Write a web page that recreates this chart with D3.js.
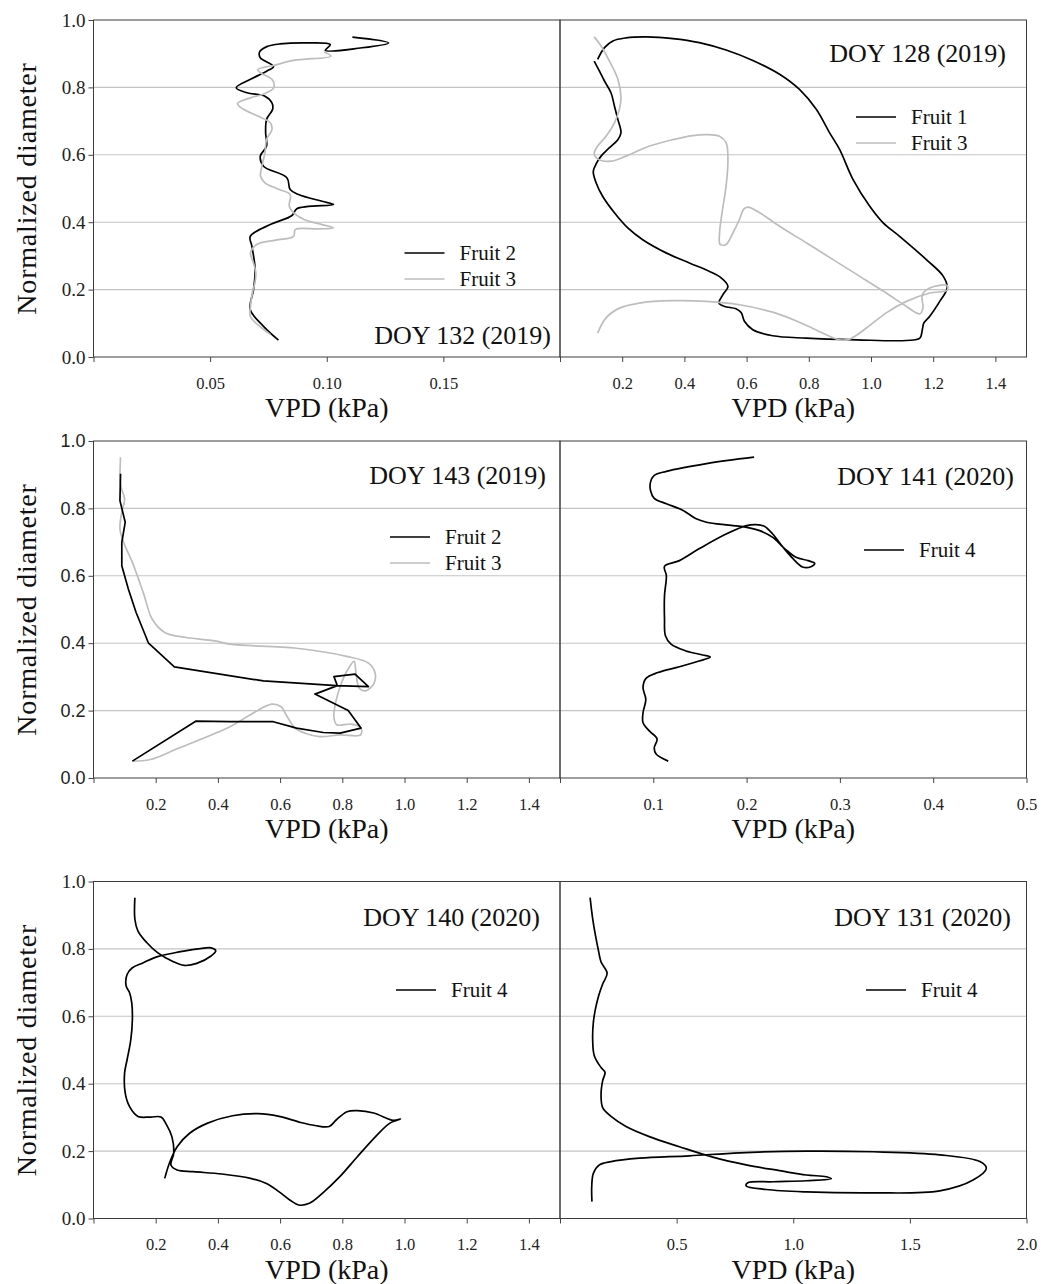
<!DOCTYPE html>
<html>
<head>
<meta charset="utf-8">
<script src="https://cdn.jsdelivr.net/npm/d3@7"></script>
<style>
  body { margin: 0; background: #fff; }
  svg { display: block; }
</style>
</head>
<body>
<script>
// VPD (kPa) vs normalized diameter
const doy132Fruit2 = [[0.111,0.949],[0.1265,0.932],[0.1144,0.917],[0.0994,0.910],[0.1015,0.927],[0.0929,0.932],[0.080,0.929],[0.0743,0.921],[0.0712,0.905],[0.0715,0.888],[0.0772,0.862],[0.0742,0.848],[0.0673,0.824],[0.0612,0.799],[0.0658,0.784],[0.0735,0.774],[0.0765,0.754],[0.0768,0.735],[0.0742,0.705],[0.0738,0.665],[0.0742,0.626],[0.0715,0.596],[0.0729,0.566],[0.0829,0.532],[0.0843,0.497],[0.0879,0.482],[0.098,0.462],[0.1029,0.4525],[0.0872,0.440],[0.0851,0.420],[0.0758,0.393],[0.0672,0.358],[0.0679,0.329],[0.0693,0.260],[0.0686,0.200],[0.0672,0.141],[0.0729,0.091],[0.0793,0.050]]
const doy132Fruit3 = [[0.0988,0.905],[0.1018,0.893],[0.0858,0.880],[0.0772,0.865],[0.0704,0.853],[0.0719,0.842],[0.0765,0.824],[0.0773,0.799],[0.0735,0.782],[0.0673,0.769],[0.0617,0.752],[0.0643,0.735],[0.0704,0.715],[0.0758,0.695],[0.0765,0.675],[0.0742,0.646],[0.0735,0.606],[0.0722,0.566],[0.0716,0.537],[0.0735,0.517],[0.0796,0.497],[0.0843,0.482],[0.0839,0.448],[0.0851,0.433],[0.0903,0.408],[0.098,0.393],[0.1029,0.383],[0.0965,0.380],[0.0865,0.378],[0.0858,0.358],[0.0781,0.347],[0.070,0.334],[0.0673,0.309],[0.0686,0.279],[0.0696,0.250],[0.0692,0.220],[0.0681,0.190],[0.0673,0.150],[0.0672,0.121],[0.0704,0.096],[0.0758,0.067]]

const doy128Fruit1 = [[0.110,0.878],[0.127,0.848],[0.143,0.819],[0.164,0.784],[0.175,0.745],[0.186,0.705],[0.196,0.665],[0.186,0.645],[0.159,0.621],[0.132,0.596],[0.118,0.576],[0.107,0.551],[0.116,0.517],[0.137,0.477],[0.175,0.428],[0.218,0.383],[0.266,0.348],[0.341,0.309],[0.416,0.279],[0.481,0.254],[0.518,0.235],[0.540,0.210],[0.524,0.185],[0.511,0.160],[0.529,0.150],[0.566,0.143],[0.583,0.131],[0.593,0.106],[0.620,0.081],[0.684,0.063],[0.792,0.056],[0.953,0.051],[1.114,0.049],[1.157,0.056],[1.165,0.081],[1.170,0.101],[1.189,0.121],[1.221,0.165],[1.245,0.205],[1.232,0.240],[1.178,0.289],[1.092,0.358],[1.039,0.398],[0.996,0.447],[0.942,0.527],[0.899,0.616],[0.867,0.665],[0.824,0.735],[0.770,0.794],[0.706,0.839],[0.620,0.880],[0.534,0.911],[0.448,0.933],[0.363,0.945],[0.277,0.950],[0.212,0.947],[0.170,0.938],[0.143,0.918],[0.121,0.883]]
const doy128Fruit3 = [[0.110,0.950],[0.132,0.923],[0.159,0.878],[0.186,0.824],[0.196,0.774],[0.191,0.735],[0.175,0.695],[0.148,0.655],[0.121,0.626],[0.110,0.604],[0.121,0.588],[0.164,0.581],[0.212,0.596],[0.288,0.626],[0.363,0.645],[0.427,0.657],[0.470,0.660],[0.513,0.655],[0.534,0.636],[0.540,0.586],[0.534,0.507],[0.521,0.428],[0.513,0.368],[0.515,0.334],[0.534,0.334],[0.556,0.368],[0.577,0.408],[0.590,0.438],[0.604,0.445],[0.642,0.428],[0.706,0.388],[0.792,0.339],[0.878,0.289],[0.963,0.240],[1.049,0.190],[1.114,0.150],[1.157,0.128],[1.167,0.145],[1.165,0.185],[1.189,0.205],[1.245,0.212],[1.245,0.198],[1.189,0.190],[1.114,0.165],[1.049,0.131],[0.985,0.086],[0.931,0.053],[0.899,0.051],[0.856,0.066],[0.770,0.103],[0.684,0.133],[0.577,0.155],[0.470,0.165],[0.363,0.167],[0.255,0.160],[0.191,0.145],[0.148,0.116],[0.121,0.071]]

const doy143Fruit2 = [[0.087,0.903],[0.085,0.823],[0.102,0.759],[0.091,0.699],[0.091,0.630],[0.112,0.561],[0.137,0.491],[0.177,0.400],[0.260,0.330],[0.546,0.288],[0.782,0.274],[0.884,0.271],[0.841,0.308],[0.773,0.301],[0.784,0.274],[0.712,0.249],[0.819,0.200],[0.860,0.148],[0.793,0.133],[0.739,0.135],[0.653,0.148],[0.578,0.167],[0.439,0.167],[0.330,0.169],[0.125,0.050]]
const doy143Fruit3 = [[0.087,0.952],[0.087,0.868],[0.100,0.828],[0.091,0.789],[0.085,0.739],[0.097,0.699],[0.125,0.640],[0.160,0.550],[0.189,0.471],[0.229,0.432],[0.298,0.417],[0.390,0.407],[0.439,0.397],[0.653,0.385],[0.814,0.361],[0.884,0.341],[0.905,0.313],[0.902,0.281],[0.876,0.259],[0.855,0.266],[0.844,0.311],[0.838,0.346],[0.814,0.316],[0.793,0.271],[0.778,0.222],[0.773,0.182],[0.782,0.158],[0.830,0.160],[0.860,0.148],[0.859,0.128],[0.793,0.128],[0.728,0.123],[0.680,0.133],[0.648,0.148],[0.623,0.182],[0.602,0.212],[0.573,0.219],[0.503,0.187],[0.439,0.152],[0.275,0.089],[0.183,0.055],[0.125,0.050]]

const doy141Fruit4 = [[0.208,0.952],[0.157,0.933],[0.114,0.910],[0.101,0.898],[0.097,0.878],[0.097,0.853],[0.101,0.830],[0.114,0.814],[0.132,0.794],[0.146,0.769],[0.157,0.759],[0.178,0.751],[0.196,0.746],[0.214,0.734],[0.228,0.714],[0.241,0.680],[0.253,0.655],[0.266,0.645],[0.273,0.637],[0.269,0.627],[0.260,0.626],[0.250,0.650],[0.239,0.685],[0.228,0.724],[0.219,0.747],[0.210,0.752],[0.200,0.749],[0.178,0.724],[0.149,0.680],[0.128,0.645],[0.112,0.628],[0.114,0.600],[0.112,0.541],[0.112,0.471],[0.113,0.422],[0.119,0.397],[0.135,0.377],[0.153,0.365],[0.161,0.359],[0.149,0.347],[0.128,0.330],[0.105,0.313],[0.092,0.295],[0.089,0.268],[0.092,0.233],[0.089,0.194],[0.089,0.164],[0.096,0.139],[0.104,0.116],[0.101,0.089],[0.103,0.071],[0.116,0.050]]

const doy140Fruit4 = [[0.133,0.952],[0.133,0.888],[0.143,0.853],[0.171,0.819],[0.206,0.789],[0.252,0.764],[0.292,0.751],[0.332,0.757],[0.378,0.779],[0.393,0.794],[0.378,0.803],[0.344,0.801],[0.275,0.791],[0.206,0.777],[0.160,0.759],[0.125,0.744],[0.108,0.724],[0.105,0.690],[0.116,0.670],[0.123,0.640],[0.125,0.590],[0.120,0.531],[0.108,0.471],[0.100,0.432],[0.102,0.372],[0.116,0.332],[0.143,0.303],[0.183,0.301],[0.217,0.301],[0.235,0.278],[0.252,0.243],[0.258,0.194],[0.249,0.159],[0.269,0.144],[0.321,0.139],[0.413,0.132],[0.505,0.119],[0.556,0.104],[0.597,0.079],[0.631,0.055],[0.660,0.040],[0.694,0.045],[0.735,0.074],[0.792,0.124],[0.849,0.184],[0.907,0.243],[0.953,0.283],[0.987,0.295],[0.964,0.291],[0.901,0.313],[0.849,0.320],[0.815,0.317],[0.781,0.293],[0.758,0.273],[0.712,0.276],[0.666,0.285],[0.597,0.303],[0.528,0.311],[0.447,0.305],[0.367,0.283],[0.309,0.253],[0.269,0.213],[0.246,0.169],[0.229,0.119]]

const doy131Fruit4 = [[0.129,0.952],[0.140,0.890],[0.152,0.840],[0.166,0.791],[0.176,0.761],[0.202,0.728],[0.183,0.696],[0.166,0.662],[0.152,0.622],[0.143,0.582],[0.140,0.533],[0.147,0.483],[0.176,0.448],[0.193,0.434],[0.183,0.409],[0.176,0.369],[0.183,0.329],[0.219,0.303],[0.283,0.273],[0.383,0.243],[0.512,0.213],[0.655,0.182],[0.798,0.159],[0.941,0.142],[1.056,0.129],[1.142,0.124],[1.163,0.118],[1.056,0.112],[0.913,0.109],[0.805,0.106],[0.798,0.097],[0.884,0.086],[1.056,0.079],[1.342,0.076],[1.628,0.082],[1.771,0.114],[1.828,0.149],[1.800,0.169],[1.628,0.189],[1.342,0.198],[1.056,0.200],[0.770,0.195],[0.555,0.186],[0.341,0.179],[0.219,0.169],[0.169,0.159],[0.143,0.134],[0.136,0.094],[0.137,0.050]]

const yTicks = [0, 0.2, 0.4, 0.6, 0.8, 1.0]
const gridValues = [0.2, 0.4, 0.6, 0.8]
const ticks015 = [0, 0.2, 0.4, 0.6, 0.8, 1.0, 1.2, 1.4]

const BLACK = "#000"
const GREY = "#bdbdbd"
const SERIF = "'Liberation Serif', 'Times New Roman', serif"
const SANS = "'Liberation Sans', Arial, sans-serif"
const smooth = d3.curveCatmullRom.alpha(0.5)

const W = 1041, H = 1284
const rowTop = [20, 441, 881.5]
const PH = 337
const colX = [93.5, 560]
const PW = 466.5

const panels = [
  {row: 0, col: 0, xMax: 0.2, ticks: [0, 0.05, 0.1, 0.15, 0.2], shown: [0.05, 0.1, 0.15], fmt: ".2f",
   title: "DOY 132 (2019)", titleDx: 9, titleY: 324, legX: 311, legY: 233,
   series: [{name: "Fruit 2", data: doy132Fruit2, color: BLACK, curve: smooth},
            {name: "Fruit 3", data: doy132Fruit3, color: GREY, curve: smooth}]},
  {row: 0, col: 1, xMax: 1.5, ticks: ticks015, shown: ticks015.slice(1), fmt: ".1f",
   title: "DOY 128 (2019)", titleDx: 20.5, titleY: 42, legX: 296, legY: 97,
   series: [{name: "Fruit 1", data: doy128Fruit1, color: BLACK, curve: smooth},
            {name: "Fruit 3", data: doy128Fruit3, color: GREY, curve: smooth}]},
  {row: 1, col: 0, xMax: 1.5, ticks: ticks015, shown: ticks015.slice(1), fmt: ".1f",
   title: "DOY 143 (2019)", titleDx: 14, titleY: 43, legX: 296.5, legY: 96,
   series: [{name: "Fruit 3", data: doy143Fruit3, color: GREY, curve: smooth},
            {name: "Fruit 2", data: doy143Fruit2, color: BLACK, curve: d3.curveLinear}],
   legendOrder: [1, 0]},
  {row: 1, col: 1, xMax: 0.5, ticks: [0, 0.1, 0.2, 0.3, 0.4, 0.5], shown: [0.1, 0.2, 0.3, 0.4, 0.5], fmt: ".1f",
   title: "DOY 141 (2020)", titleDx: 12.5, titleY: 44, legX: 304, legY: 109,
   series: [{name: "Fruit 4", data: doy141Fruit4, color: BLACK, curve: smooth}]},
  {row: 2, col: 0, xMax: 1.5, ticks: ticks015, shown: ticks015.slice(1), fmt: ".1f",
   title: "DOY 140 (2020)", titleDx: 20, titleY: 44.5, legX: 302.5, legY: 108.5,
   series: [{name: "Fruit 4", data: doy140Fruit4, color: BLACK, curve: smooth}]},
  {row: 2, col: 1, xMax: 2.0, ticks: [0, 0.5, 1.0, 1.5, 2.0], shown: [0.5, 1.0, 1.5, 2.0], fmt: ".1f",
   title: "DOY 131 (2020)", titleDx: 15.5, titleY: 44.5, legX: 306, legY: 108.5,
   series: [{name: "Fruit 4", data: doy131Fruit4, color: BLACK, curve: smooth}]}
]

const svg = d3.select("body").append("svg")
    .attr("width", W)
    .attr("height", H)
    .attr("font-family", SERIF)

svg.append("rect").attr("width", W).attr("height", H).attr("fill", "#fff")

const y = d3.scaleLinear().domain([0, 1]).range([PH, 0])

rowTop.forEach(function (top, r) {
  const g = svg.append("g").attr("transform", `translate(${colX[0]},${top})`)

  g.selectAll("line.grid")
    .data(gridValues)
    .enter().append("line")
      .attr("class", "grid")
      .attr("x1", 0).attr("x2", PW * 2)
      .attr("y1", d => y(d)).attr("y2", d => y(d))
      .attr("stroke", "#c4c4c4")
      .attr("stroke-width", 1.1)

  // the middle row uses a sans face for its y labels in the original
  const yAxis = g.append("g")
    .call(d3.axisLeft(y).tickValues(yTicks).tickSize(5).tickPadding(3).tickFormat(d3.format(".1f")))
  yAxis.attr("font-family", r === 1 ? SANS : SERIF).attr("font-size", r === 1 ? 18 : 19)
  yAxis.select(".domain").remove()
  yAxis.selectAll(".tick line").attr("stroke", "#444")
  yAxis.selectAll("text").attr("fill", "#222")

  g.append("text")
    .attr("transform", `translate(${36 - colX[0]},${PH / 2}) rotate(-90)`)
    .attr("text-anchor", "middle")
    .attr("font-family", SERIF)
    .attr("font-size", 28)
    .attr("letter-spacing", 0.8)
    .attr("fill", "#111")
    .text("Normalized diameter")
})

panels.forEach(function (p) {
  const left = colX[p.col], top = rowTop[p.row]
  const g = svg.append("g").attr("transform", `translate(${left},${top})`)
  const x = d3.scaleLinear().domain([0, p.xMax]).range([0, PW])

  const clipId = `clip${p.row}${p.col}`
  g.append("clipPath").attr("id", clipId)
    .append("rect").attr("width", PW).attr("height", PH)

  const line = d3.line().x(d => x(d[0])).y(d => y(d[1]))

  g.append("g").attr("clip-path", `url(#${clipId})`)
    .selectAll("path")
    .data(p.series)
    .enter().append("path")
      .attr("d", d => line.curve(d.curve)(d.data))
      .attr("fill", "none")
      .attr("stroke", d => d.color)
      .attr("stroke-width", 1.7)
      .attr("stroke-linejoin", "round")

  // frame
  g.append("rect")
    .attr("width", PW).attr("height", PH)
    .attr("fill", "none")
    .attr("stroke", "#3c3c3c")
    .attr("stroke-width", 1)

  const xAxis = g.append("g")
    .attr("transform", `translate(0,${PH})`)
    .call(d3.axisBottom(x).tickValues(p.ticks).tickSize(5).tickPadding(15)
      .tickFormat(d => p.shown.some(s => Math.abs(s - d) < 1e-9) ? d3.format(p.fmt)(d) : ""))
  xAxis.attr("font-family", SERIF).attr("font-size", 16.5)
  xAxis.select(".domain").remove()
  xAxis.selectAll(".tick line").attr("stroke", "#444")
  xAxis.selectAll("text").attr("fill", "#222")

  g.append("text")
    .attr("x", PW / 2)
    .attr("y", PH + 60)
    .attr("text-anchor", "middle")
    .attr("font-family", SERIF)
    .attr("font-size", 28)
    .attr("fill", "#111")
    .text("VPD (kPa)")

  g.append("text")
    .attr("x", PW - p.titleDx)
    .attr("y", p.titleY)
    .attr("text-anchor", "end")
    .attr("font-family", SERIF)
    .attr("font-size", 26)
    .attr("fill", "#111")
    .text(p.title)

  const order = p.legendOrder || p.series.map((s, i) => i)
  const leg = g.append("g")
    .attr("transform", `translate(${p.legX},${p.legY})`)
    .selectAll("g")
    .data(order.map(i => p.series[i]))
    .enter().append("g")
      .attr("transform", (d, i) => `translate(0,${i * 26})`)
  leg.append("line")
    .attr("x1", 0).attr("x2", 40)
    .attr("stroke", d => d.color)
    .attr("stroke-width", 1.7)
  leg.append("text")
    .attr("x", 55)
    .attr("dy", "0.33em")
    .attr("font-family", SERIF)
    .attr("font-size", 21)
    .attr("fill", "#111")
    .text(d => d.name)
})
</script>
</body>
</html>
